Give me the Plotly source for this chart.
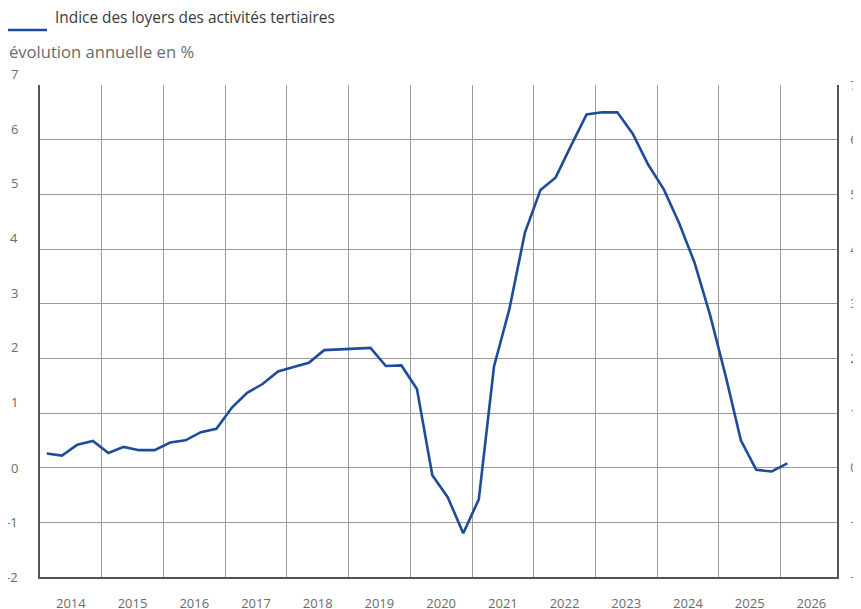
import pandas as pd
import plotly.graph_objects as go

# Quarterly series, annual change in %
series_name = "Indice des loyers des activités tertiaires"
first_quarter = "2014Q1"
values = [
    0.26, 0.22, 0.42, 0.49,   # 2014
    0.27, 0.38, 0.32, 0.32,   # 2015
    0.46, 0.50, 0.65, 0.71,   # 2016
    1.10, 1.37, 1.53, 1.76,   # 2017
    1.84, 1.92, 2.15, 2.16,   # 2018
    2.17, 2.19, 1.86, 1.87,   # 2019
    1.44, -0.14, -0.54, -1.20,  # 2020
    -0.58, 1.85, 2.90, 4.30,  # 2021
    5.08, 5.31, 5.89, 6.46,   # 2022
    6.50, 6.50, 6.11, 5.54,   # 2023
    5.09, 4.47, 3.75, 2.79,   # 2024
    1.68, 0.50, -0.04, -0.07,  # 2025
    0.08,                     # 2026
]
y_ticks = [-2, -1, 0, 1, 2, 3, 4, 5, 6, 7]
y_title = "évolution annuelle en %"

quarters = pd.period_range(first_quarter, periods=len(values), freq="Q")
dates = quarters.to_timestamp(how="start") + pd.Timedelta(days=40)

BLUE = "#1d4c9a"
GRID = "#9a9a9a"
FRAME = "#555555"
TXT = "#6b6b6b"
FONT = "Open Sans"

PW, PH = 797, 492  # plot area size in px

fig = go.Figure()
fig.add_trace(go.Scatter(x=dates, y=values, mode="lines", name=series_name,
                         line=dict(color=BLUE, width=2.6), showlegend=False))
# invisible twin on the right axis
fig.add_trace(go.Scatter(x=dates, y=values, mode="lines", yaxis="y2",
                         line=dict(color="rgba(0,0,0,0)", width=0),
                         hoverinfo="skip", showlegend=False))

fig.update_layout(
    width=853, height=601,
    margin=dict(l=32, r=24, t=77, b=32),
    paper_bgcolor="white", plot_bgcolor="white",
    font=dict(family=FONT, color=TXT, size=13),
    xaxis=dict(
        type="date",
        range=["2014-01-01", "2026-12-01"],
        tick0="2014-01-01", dtick="M12",
        ticklabelmode="period", tickformat="%Y",
        showgrid=True, gridcolor=GRID, gridwidth=1,
        showline=True, linecolor=FRAME, linewidth=2,
        ticks="", ticklabelstandoff=13, automargin=False,
        tickfont=dict(size=13, color=TXT),
    ),
    yaxis=dict(
        range=[y_ticks[0], y_ticks[-1]], tickvals=y_ticks,
        showgrid=True, gridcolor=GRID, gridwidth=1,
        zeroline=True, zerolinecolor=GRID, zerolinewidth=1.2,
        showline=True, linecolor=FRAME, linewidth=2,
        showticklabels=False, ticks="", automargin=False,
    ),
    yaxis2=dict(
        range=[y_ticks[0], y_ticks[-1]], tickvals=y_ticks,
        overlaying="y", side="right", anchor="x",
        showgrid=False, zeroline=False,
        showline=True, linecolor=FRAME, linewidth=1.5,
        ticks="", ticklabelstandoff=9, automargin=False,
        tickfont=dict(size=13, color=TXT),
    ),
)

# left tick labels
for v in y_ticks:
    fig.add_annotation(x=0, xref="paper", y=v, yref="y", text=str(v),
                       showarrow=False, xanchor="right", yanchor="middle",
                       xshift=-20, yshift=11 if v > 0 else 0,
                       font=dict(size=13, color=TXT))

# legend (line underlining sample + label)
fig.add_shape(type="line", xref="paper", yref="paper",
              x0=-33 / PW, x1=7 / PW, y0=1 + 55 / PH, y1=1 + 55 / PH,
              line=dict(color=BLUE, width=2.6))
fig.add_annotation(x=13 / PW, xref="paper", y=1 + 67 / PH, yref="paper",
                   text=series_name, showarrow=False, xanchor="left", yanchor="middle",
                   font=dict(size=15.4, color="#3a3a3a"))
fig.add_annotation(x=-33 / PW, xref="paper", y=1 + 33 / PH, yref="paper",
                   text=y_title, showarrow=False, xanchor="left", yanchor="middle",
                   font=dict(size=16.6, color=TXT))

fig.write_html("out.html")
